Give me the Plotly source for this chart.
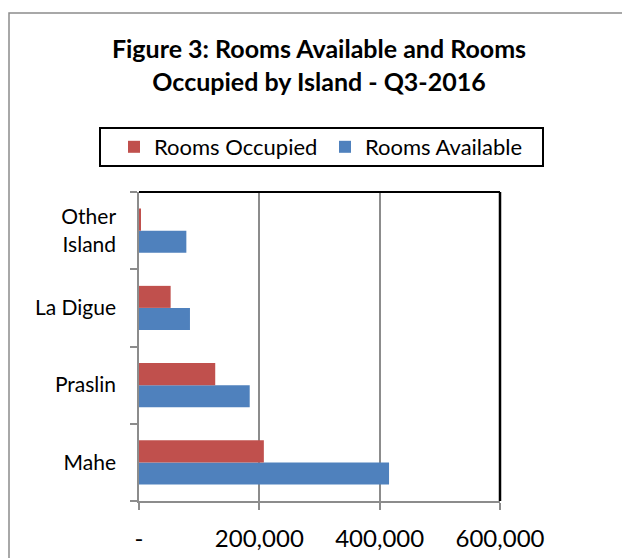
import plotly.graph_objects as go

islands = ["Mahe", "Praslin", "La Digue", "Other Island"]
island_labels = ["Mahe", "Praslin", "La Digue", "Other<br>Island"]
rooms_available = [415600, 184000, 84700, 78700]
rooms_occupied = [207500, 126700, 52600, 3000]
x_tick_vals = [0, 200000, 400000, 600000]
x_tick_text = ["-", "200,000", "400,000", "600,000"]

FONT = "Lato"
OFF = 8  # page body margin

# target plot area in page coords
PL, PR, PT, PB = 139, 500, 192, 501
W, H = 630, 558
pw, ph = PR - PL, PB - PT

fig = go.Figure()
fig.add_trace(go.Bar(
    y=islands, x=rooms_available, orientation="h", name="Rooms Available",
    marker=dict(color="#4F81BD", line=dict(width=0)),
))
fig.add_trace(go.Bar(
    y=islands, x=rooms_occupied, orientation="h", name="Rooms Occupied",
    marker=dict(color="#C0504D", line=dict(width=0)),
))

fig.update_layout(
    width=W, height=H,
    margin=dict(l=PL - OFF, r=W - (PR - OFF), t=PT - OFF, b=H - (PB - OFF)),
    paper_bgcolor="white", plot_bgcolor="white",
    font=dict(family=FONT, color="black"),
    barmode="group", bargap=0.43, bargroupgap=0,
    title=dict(
        text="<b>Figure 3: Rooms Available and Rooms<br>Occupied by Island - Q3-2016</b>",
        x=(319 - OFF) / W, xref="container", xanchor="center",
        y=1 - 50 / H, yref="container", yanchor="top",
        font=dict(family=FONT, size=25, color="black"),
    ),
    legend=dict(
        orientation="h", traceorder="reversed",
        xref="paper", yref="paper",
        x=(114 - PL) / pw, xanchor="left",
        y=(PB - 126) / ph, yanchor="top",
        borderwidth=0, bgcolor="rgba(0,0,0,0)",
        font=dict(family=FONT, size=22),
        entrywidth=166,
    ),
    showlegend=True,
)

fig.update_xaxes(
    range=[0, 600000], tickvals=x_tick_vals, ticktext=x_tick_text,
    showgrid=True, gridcolor="#8c8c8c", gridwidth=1.5,
    showline=True, linecolor="#8c8c8c", linewidth=1.5,
    ticks="outside", ticklen=7, tickcolor="#8c8c8c", tickwidth=1.5,
    tickfont=dict(family=FONT, size=24), zeroline=False,
    ticklabelstandoff=8,
)
fig.update_yaxes(
    categoryorder="array", categoryarray=islands,
    tickvals=islands, ticktext=island_labels,
    showline=True, linecolor="#8c8c8c", linewidth=1.5,
    ticks="outside", tickson="boundaries", ticklen=7,
    tickcolor="#8c8c8c", tickwidth=1.5,
    tickfont=dict(family=FONT, size=21), showgrid=False,
    ticklabelstandoff=17,
)

# plot-area top and right border (black)
fig.add_shape(type="line", xref="paper", yref="paper", x0=0, x1=1, y0=1, y1=1,
              line=dict(color="black", width=2))
fig.add_shape(type="line", xref="paper", yref="paper", x0=1, x1=1, y0=0, y1=1,
              line=dict(color="black", width=2.5))
# legend box
fig.add_shape(type="rect", xref="paper", yref="paper",
              x0=(100 - PL) / pw, x1=(543 - PL) / pw,
              y0=(PB - 166) / ph, y1=(PB - 128) / ph,
              line=dict(color="black", width=2))
# outer chart border
fig.add_shape(type="rect", xref="paper", yref="paper",
              x0=(9 - PL) / pw, x1=(645 - PL) / pw,
              y0=(PB - 575) / ph, y1=(PB - 13) / ph,
              line=dict(color="#8c8c8c", width=1.5), layer="below")

fig.write_html("out.html")
